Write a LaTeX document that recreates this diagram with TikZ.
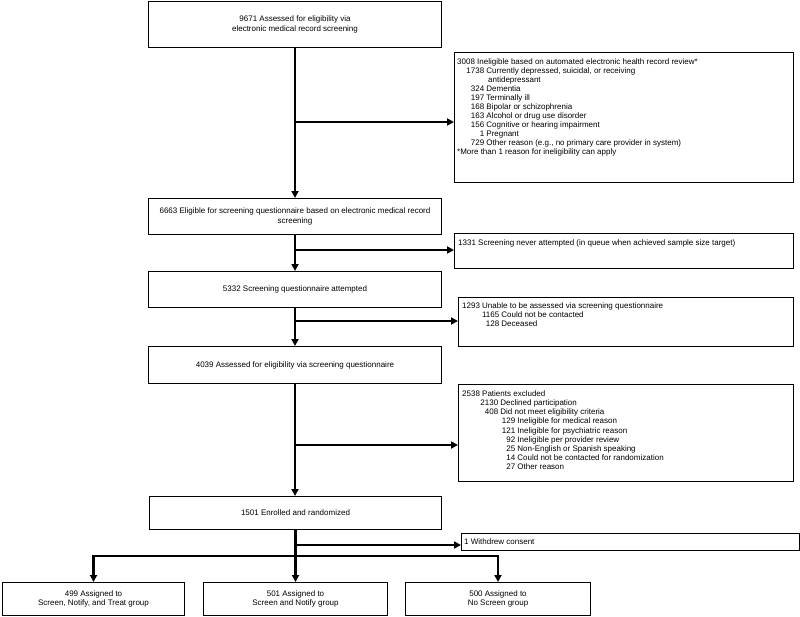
\documentclass[tikz,border=0pt]{standalone}
\usepackage{fontspec}
\setmainfont{Liberation Sans}
\usetikzlibrary{arrows.meta}
\newcommand{\cnt}[3]{\makebox[#1][r]{#2}\ #3}

\begin{document}
\begin{tikzpicture}[x=1pt,y=-1pt,
	mbox/.style={draw,line width=1pt,anchor=north west,align=center,inner sep=0pt,font=\fontsize{8}{9.5}\selectfont},
	sbox/.style={draw,line width=1pt,anchor=north west,inner sep=0pt},
	stext/.style={anchor=north west,align=left,inner sep=0pt,font=\fontsize{8}{9}\selectfont},
	arr/.style={line width=2.5pt,-{Triangle[length=7pt,width=7pt]}}]
	\useasboundingbox (0,0) rectangle (800,616);
	% main column
	\node[mbox,minimum width=293,minimum height=46] (scr0) at (148,1) {9671 Assessed for eligibility via\\electronic medical record screening};
	\node[mbox,minimum width=293,minimum height=36] (elig) at (148,198) {6663 Eligible for screening questionnaire based on electronic medical record\\screening};
	\node[mbox,minimum width=293,minimum height=36] (att) at (148,271) {5332 Screening questionnaire attempted};
	\node[mbox,minimum width=293,minimum height=37] (asq) at (148,346) {4039 Assessed for eligibility via screening questionnaire};
	\node[mbox,minimum width=292,minimum height=33] (rand) at (149,496) {1501 Enrolled and randomized};
	% groups
	\node[mbox,minimum width=182,minimum height=33] (g1) at (2,582) {499 Assigned to\\Screen, Notify, and Treat group};
	\node[mbox,minimum width=184,minimum height=33] (g2) at (203,582) {501 Assigned to\\Screen and Notify group};
	\node[mbox,minimum width=185,minimum height=33] (g3) at (405,582) {500 Assigned to\\No Screen group};
	% exclusion boxes
	\node[sbox,minimum width=339,minimum height=130] (ex1) at (454,52) {};
	\node[stext] (ex1t) at ([shift={(3,6)}]ex1.north west) {3008 Ineligible based on automated electronic health record review*\\
		\cnt{27pt}{1738}{Currently depressed, suicidal, or receiving}\\
		\hspace*{31pt}antidepressant\\
		\cnt{27pt}{324}{Dementia}\\
		\cnt{27pt}{197}{Terminally ill}\\
		\cnt{27pt}{168}{Bipolar or schizophrenia}\\
		\cnt{27pt}{163}{Alcohol or drug use disorder}\\
		\cnt{27pt}{156}{Cognitive or hearing impairment}\\
		\cnt{27pt}{1}{Pregnant}\\
		\cnt{27pt}{729}{Other reason (e.g., no primary care provider in system)}\\
		*More than 1 reason for ineligibility can apply};
	\node[sbox,minimum width=339,minimum height=35] (ex2) at (454,233) {};
	\node[stext] (ex2t) at ([shift={(4,6)}]ex2.north west) {1331 Screening never attempted (in queue when achieved sample size target)};
	\node[sbox,minimum width=335,minimum height=49] (ex3) at (458,297) {};
	\node[stext] (ex3t) at ([shift={(4,5)}]ex3.north west) {1293 Unable to be assessed via screening questionnaire\\
		\cnt{37pt}{1165}{Could not be contacted}\\
		\cnt{37pt}{128}{Deceased}};
	\node[sbox,minimum width=335,minimum height=97] (ex4) at (458,384) {};
	\node[stext] (ex4t) at ([shift={(4,6)}]ex4.north west) {2538 Patients excluded\\
		\cnt{36pt}{2130}{Declined participation}\\
		\cnt{36pt}{408}{Did not meet eligibility criteria}\\
		\cnt{53pt}{129}{Ineligible for medical reason}\\[1.5pt]
		\cnt{53pt}{121}{Ineligible for psychiatric reason}\\
		\cnt{53pt}{92}{Ineligible per provider review}\\
		\cnt{53pt}{25}{Non-English or Spanish speaking}\\
		\cnt{53pt}{14}{Could not be contacted for randomization}\\
		\cnt{53pt}{27}{Other reason}};
	\node[sbox,minimum width=338,minimum height=17] (wd) at (461,533) {};
	\node[stext,anchor=west] (wdt) at ([xshift=3pt]wd.west) {1 Withdrew consent};
	% junctions on the spine
	\coordinate (b1) at (294.5,122);
	\coordinate (b2) at (294.5,250);
	\coordinate (b3) at (294.5,321);
	\coordinate (b4) at (294.5,445);
	\coordinate (b5) at (295,545);
	\coordinate (fork) at (295,556);
	% arrows
	\draw[arr] (scr0.south) -- (scr0.south |- elig.north);
	\draw[arr] (elig.south) -- (elig.south |- att.north);
	\draw[arr] (att.south) -- (att.south |- asq.north);
	\draw[arr] (asq.south) -- (asq.south |- rand.north);
	\draw[arr] (rand.south) -- (g2.north);
	\draw[arr] (b1) -- (b1 -| ex1.west);
	\draw[arr] (b2) -- (b2 -| ex2.west);
	\draw[arr] (b3) -- (b3 -| ex3.west);
	\draw[arr] (b4) -- (b4 -| ex4.west);
	\draw[arr] (b5) -- (b5 -| wd.west);
	\draw[arr] (fork) -| (g1.north);
	\draw[arr] (fork) -| (g3.north);
\end{tikzpicture}
\end{document}
